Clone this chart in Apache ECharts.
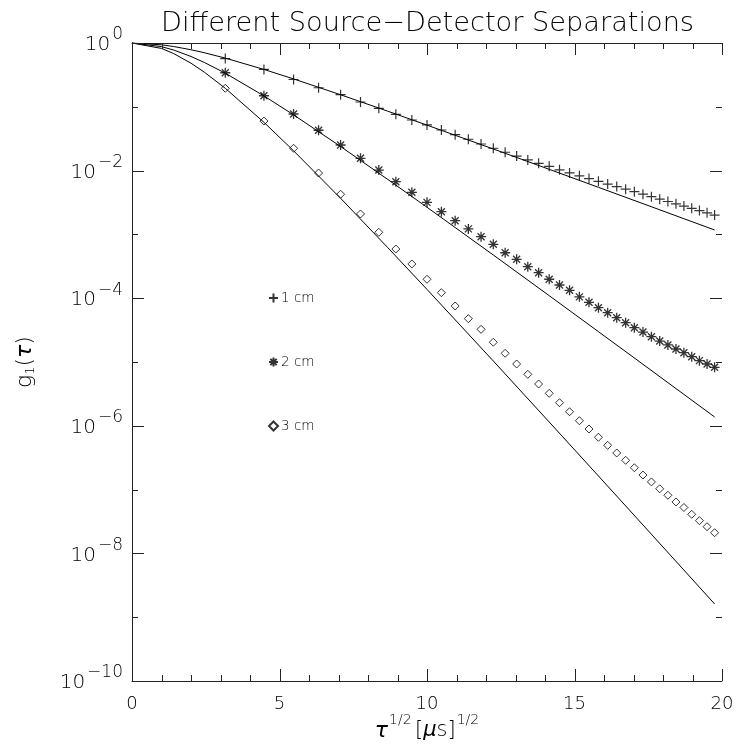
<!DOCTYPE html>
<html>
<head>
<meta charset="utf-8">
<title>Different Source-Detector Separations</title>
<script src="https://cdn.jsdelivr.net/npm/echarts@6/dist/echarts.min.js"></script>
<style>
  html, body { margin: 0; padding: 0; background: #fff; }
  #chart { width: 739px; height: 744px; }
</style>
</head>
<body>
<div id="chart"></div>
<script>
// Delay times (μs) of the measured correlation points
const tauUs = [10, 20, 30, 40, 50, 60, 70, 80, 90, 100,
               110, 120, 130, 140, 150, 160, 170, 180, 190, 200,
               210, 220, 230, 240, 250, 260, 270, 280, 290, 300,
               310, 320, 330, 340, 350, 360, 370, 380, 390];

// Measured g1(tau) at each source-detector separation
const sep1cm = [0.571, 0.385, 0.268, 0.199, 0.155, 0.119, 0.0946, 0.0762, 0.0621, 0.0519,
                0.0433, 0.0366, 0.0310, 0.0261, 0.0224, 0.0194, 0.0169, 0.0147, 0.0130, 0.01167,
                0.01028, 0.00918, 0.00828, 0.00750, 0.00679, 0.00615, 0.00561, 0.00512, 0.00467, 0.00427,
                0.00390, 0.00357, 0.00328, 0.00302, 0.00278, 0.00256, 0.00236, 0.00218, 0.00201];
const sep2cm = [0.342, 0.149, 0.0771, 0.0429, 0.0252, 0.0156, 0.0102, 0.00670, 0.00457, 0.00318,
                0.00227, 0.00164, 0.00122, 0.000920, 0.000700, 0.000516, 0.000407, 0.000312, 0.000251, 0.000198,
                0.000161, 0.000133, 0.000105, 8.63e-5, 7.10e-5, 5.93e-5, 4.95e-5, 4.13e-5, 3.45e-5, 2.95e-5,
                2.49e-5, 2.13e-5, 1.85e-5, 1.60e-5, 1.40e-5, 1.21e-5, 1.05e-5, 9.31e-6, 8.26e-6];
const sep3cm = [0.195, 0.0598, 0.0224, 0.00916, 0.00426, 0.00209, 0.00108, 0.000590, 0.000344, 0.000198,
                0.000122, 7.55e-5, 4.78e-5, 3.25e-5, 2.04e-5, 1.37e-5, 9.31e-6, 6.41e-6, 4.52e-6, 3.23e-6,
                2.30e-6, 1.66e-6, 1.20e-6, 8.91e-7, 6.61e-7, 4.94e-7, 3.75e-7, 2.88e-7, 2.20e-7, 1.69e-7,
                1.32e-7, 1.03e-7, 8.15e-8, 6.40e-8, 5.24e-8, 4.10e-8, 3.26e-8, 2.62e-8, 2.11e-8];

// Diffusion-theory curves, sampled at these delay times (μs)
const fitTau = [0, 1, 2, 4, 6, 10, 20, 30, 50, 75, 100, 150, 200, 250, 300, 350, 390];
const fit1cm = [1, 0.9368, 0.8805, 0.7842, 0.7043, 0.5799, 0.3851, 0.2734, 0.1544, 0.08561,
                0.05161, 0.02181, 0.01047, 0.005469, 0.003034, 0.001763, 0.001173];
const fit2cm = [1, 0.8776, 0.7753, 0.6149, 0.4961, 0.3364, 0.1483, 0.07475, 0.02384, 0.007329,
                0.002663, 4.757e-4, 1.096e-4, 2.991e-5, 9.205e-6, 3.108e-6, 1.376e-6];
const fit3cm = [1, 0.8221, 0.6826, 0.4822, 0.3494, 0.1951, 0.05711, 0.02044, 0.003681, 6.274e-4,
                1.374e-4, 1.037e-5, 1.147e-6, 1.636e-7, 2.793e-8, 5.479e-9, 1.614e-9];

// Axis ticks: labelled (long) and unlabelled (short) positions
const xMajorTicks = [0, 5, 10, 15, 20];
const xMinorTicks = [1, 2, 3, 4, 6, 7, 8, 9, 11, 12, 13, 14, 16, 17, 18, 19];
const yMajorTicks = [1, 1e-2, 1e-4, 1e-6, 1e-8, 1e-10];
const yMinorTicks = [1e-1, 1e-3, 1e-5, 1e-7, 1e-9];

const FONT = 'DejaVu Sans';
const INK = '#000';
const AXIS_INK = '#222';
const MAJOR_LEN = 12, MINOR_LEN = 6;

const SYM_PLUS = 'path://M0,5L10,5M5,0L5,10';
const SYM_STAR = 'path://M0,5L10,5M5,0L5,10M1.5,1.5L8.5,8.5M1.5,8.5L8.5,1.5';
const SYM_DIAMOND = 'path://M5,0L10,5L5,10L0,5Z';

const sqrtPairs = (taus, vals) => taus.map((t, i) => [Math.sqrt(t), vals[i]]);

function powerLabel(v) {
  const p = Math.round(Math.log10(v));
  const e = p < 0 ? '\u2212' + (-p) : String(p);
  return '{b|10}{s|' + e + '}';
}

function scatter(name, vals, symbol, size, width) {
  return {
    type: 'scatter', name: name,
    data: sqrtPairs(tauUs, vals),
    symbol: symbol, symbolSize: size,
    itemStyle: { color: 'transparent', borderColor: INK, borderWidth: width },
    emphasis: { disabled: true }, silent: true, z: 3
  };
}
function curve(name, vals) {
  return {
    type: 'line', name: name,
    data: sqrtPairs(fitTau, vals),
    showSymbol: false, symbol: 'none', smooth: false,
    lineStyle: { color: INK, width: 1 },
    emphasis: { disabled: true }, silent: true, z: 2
  };
}

const boxLine = { show: true, lineStyle: { color: AXIS_INK, width: 1 } };

const chart = echarts.init(document.getElementById('chart'), null, { renderer: 'canvas' });
chart.setOption({
  animation: false,
  backgroundColor: '#fff',
  title: {
    text: 'Different Source\u2212Detector Separations',
    left: 156, top: 5,
    textStyle: { fontFamily: FONT, fontWeight: 200, fontSize: 27.2, color: INK }
  },
  grid: { left: 132, right: 17, top: 43, bottom: 63, containLabel: false, outerBoundsMode: 'none' },
  legend: [
    { data: ['1 cm'], left: 268, top: 291 },
    { data: ['2 cm'], left: 268, top: 355 },
    { data: ['3 cm'], left: 268, top: 419 }
  ].map(l => Object.assign({
    orient: 'vertical', padding: 0, itemWidth: 9, itemHeight: 9, itemGap: 0,
    selectedMode: false,
    textStyle: { fontFamily: FONT, fontWeight: 200, fontSize: 13.5, color: INK, padding: [0, 0, 8, -2] }
  }, l)),
  xAxis: [
    {
      type: 'value', min: 0, max: 20, interval: 5, position: 'bottom',
      axisLine: boxLine, axisTick: { show: false }, splitLine: { show: false },
      axisLabel: { show: true, margin: 14, fontFamily: FONT, fontWeight: 200, fontSize: 18, color: INK },
      name: '{t|\u03c4}{s|1/2} {n|[}{m|\u03bc}{n|s]}{s|1/2}',
      nameLocation: 'middle', nameGap: 31, nameMoveOverlap: false,
      nameTextStyle: {
        rich: {
          t: { fontFamily: FONT, fontStyle: 'italic', fontSize: 22, color: INK, lineHeight: 30, padding: [8, 0, 0, 0] },
          m: { fontFamily: FONT, fontStyle: 'italic', fontWeight: 200, fontSize: 21, color: INK, lineHeight: 30, padding: [8, 0, 0, 0] },
          n: { fontFamily: FONT, fontWeight: 200, fontSize: 21, color: INK, lineHeight: 30, padding: [8, 0, 0, 0] },
          s: { fontFamily: FONT, fontWeight: 200, fontSize: 14, color: INK, lineHeight: 30, padding: [0, 0, 14, 1] }
        }
      }
    },
    {
      type: 'value', min: 0, max: 20, interval: 5, position: 'top',
      axisLine: boxLine, axisTick: { show: false }, axisLabel: { show: false }, splitLine: { show: false }
    }
  ],
  yAxis: [
    {
      type: 'log', logBase: 10, min: 1e-10, max: 1, position: 'left',
      axisLine: boxLine, axisTick: { show: false }, splitLine: { show: false },
      axisLabel: {
        show: true, margin: 9, customValues: yMajorTicks, formatter: powerLabel,
        rich: {
          b: { fontFamily: FONT, fontWeight: 200, fontSize: 20, color: INK, lineHeight: 36, padding: [4, 0, 0, 0] },
          s: { fontFamily: FONT, fontWeight: 200, fontSize: 17, color: INK, lineHeight: 36, padding: [0, 0, 16, 2] }
        }
      },
      name: '{g|g}{i|1}{g|(}{t|\u03c4}{g|)}',
      nameLocation: 'middle', nameRotate: 90, nameGap: 92,
      nameTextStyle: {
        rich: {
          g: { fontFamily: FONT, fontWeight: 200, fontSize: 22, color: INK, lineHeight: 30 },
          t: { fontFamily: FONT, fontStyle: 'italic', fontSize: 22, color: INK, lineHeight: 30 },
          i: { fontFamily: FONT, fontWeight: 200, fontSize: 13, color: INK, lineHeight: 30, padding: [12, 0, 0, 0] }
        }
      }
    },
    {
      type: 'log', logBase: 10, min: 1e-10, max: 1, position: 'right',
      axisLine: boxLine, axisTick: { show: false }, axisLabel: { show: false }, splitLine: { show: false }
    }
  ],
  series: [
    curve('fit 1 cm', fit1cm),
    curve('fit 2 cm', fit2cm),
    curve('fit 3 cm', fit3cm),
    scatter('1 cm', sep1cm, SYM_PLUS, 10, 1.2),
    scatter('2 cm', sep2cm, SYM_STAR, 10, 1.3),
    scatter('3 cm', sep3cm, SYM_DIAMOND, [8, 8], 1)
  ]
});

// Inward tick marks on all four sides of the plot box, placed through the axis scales
const toX = v => chart.convertToPixel({ xAxisIndex: 0 }, v);
const toY = v => chart.convertToPixel({ yAxisIndex: 0 }, v);
const boxL = toX(0), boxR = toX(20), boxT = toY(1), boxB = toY(1e-10);
const tickEls = [];
function tickLine(x1, y1, x2, y2) {
  tickEls.push({
    type: 'line', silent: true, z: 5,
    shape: { x1: x1, y1: y1, x2: x2, y2: y2 },
    style: { stroke: AXIS_INK, lineWidth: 1 }
  });
}
function xTicks(values, len) {
  values.forEach(v => {
    const x = Math.round(toX(v)) + 0.5;
    tickLine(x, boxB, x, boxB - len);
    tickLine(x, boxT, x, boxT + len);
  });
}
function yTicks(values, len) {
  values.forEach(v => {
    const y = Math.round(toY(v)) + 0.5;
    tickLine(boxL, y, boxL + len, y);
    tickLine(boxR, y, boxR - len, y);
  });
}
xTicks(xMajorTicks, MAJOR_LEN);
xTicks(xMinorTicks, MINOR_LEN);
yTicks(yMajorTicks, MAJOR_LEN);
yTicks(yMinorTicks, MINOR_LEN);
chart.setOption({ graphic: { elements: tickEls } });
</script>
</body>
</html>
